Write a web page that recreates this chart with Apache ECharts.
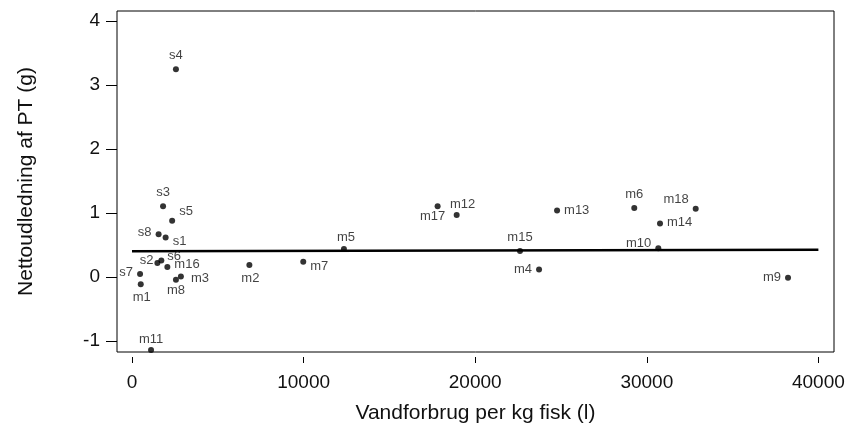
<!DOCTYPE html>
<html>
<head>
<meta charset="utf-8">
<script src="https://cdn.jsdelivr.net/npm/echarts@6/dist/echarts.min.js"></script>
<style>
  html, body { margin: 0; padding: 0; background: #fff; }
  #chart { width: 851px; height: 434px; }
</style>
</head>
<body>
<div id="chart"></div>
<script>
// sample names and values
const names = ["s4", "s3", "s5", "s8", "s1", "s2", "s6", "m16", "s7", "m1", "m8", "m3", "m2", "m11",
  "m7", "m5", "m15", "m4", "m17", "m12", "m13", "m6", "m18", "m14", "m10", "m9"];
const water = [2560, 1810, 2340, 1550, 1960, 1480, 1710, 2060, 470, 510, 2560, 2850, 6840, 1110,
  9980, 12350, 22610, 23720, 17810, 18920, 24770, 29270, 32850, 30770, 30670, 38230];
const netPT = [3.25, 1.11, 0.88, 0.67, 0.62, 0.22, 0.26, 0.16, 0.05, -0.11, -0.04, 0.01, 0.19, -1.14,
  0.24, 0.44, 0.41, 0.12, 1.11, 0.97, 1.04, 1.08, 1.07, 0.84, 0.45, -0.01];

// fitted line end points
const lineX = [0, 40000];
const lineY = [0.405, 0.43];

const xTicks = [0, 10000, 20000, 30000, 40000];
const yTicks = [-1, 0, 1, 2, 3, 4];

// where each label sits next to its dot: [position, dx, dy]
const labelPlace = {
  s4: ["top", 0, 0], s3: ["top", 0, 0], s5: ["right", 0, -9], s8: ["left", 0, -2],
  s1: ["right", 0, 4], s2: ["left", 3, -3], s6: ["right", -1, -4], m16: ["right", 0, -2],
  s7: ["left", 0, -2], m1: ["bottom", 1, 0], m8: ["bottom", 0, -3], m3: ["right", 3, 2],
  m2: ["bottom", 1, 0], m11: ["top", 0, 3], m7: ["right", 0, 5], m5: ["top", 2, 2],
  m15: ["top", 0, 0], m4: ["left", 0, 0], m17: ["bottom", -5, -3], m12: ["top", 6, 3],
  m13: ["right", 0, 0], m6: ["top", 0, 0], m18: ["left", 0, -9], m14: ["right", 0, -1],
  m10: ["left", 0, -5], m9: ["left", 0, 0]
};

const points = names.map((n, i) => {
  const p = labelPlace[n];
  return {
    value: [water[i], netPT[i]],
    name: n,
    label: { position: p[0], offset: [p[1], p[2]] }
  };
});

const font = "'Liberation Sans', Arial, Helvetica, sans-serif";

const chart = echarts.init(document.getElementById("chart"), null, { renderer: "canvas" });
chart.setOption({
  animation: false,
  backgroundColor: "#fff",
  grid: {
    left: 117, right: 17, top: 11, bottom: 82,
    show: true, borderColor: "#000", borderWidth: 1, backgroundColor: "transparent"
  },
  xAxis: {
    type: "value",
    min: -874, max: 40909,
    offset: 5,
    name: "Vandforbrug per kg fisk (l)",
    nameLocation: "middle",
    nameGap: 46,
    nameTextStyle: { color: "#111", fontSize: 21, fontFamily: font },
    axisLine: { show: false, onZero: false },
    axisTick: { show: true, length: 6, lineStyle: { color: "#000" }, customValues: xTicks },
    axisLabel: {
      color: "#111", fontSize: 19, fontFamily: font, margin: 16,
      customValues: xTicks, formatter: v => String(v)
    },
    splitLine: { show: false }
  },
  yAxis: {
    type: "value",
    min: -1.17, max: 4.16,
    name: "Nettoudledning af PT (g)",
    nameLocation: "middle",
    nameGap: 80,
    nameTextStyle: { color: "#111", fontSize: 21, fontFamily: font },
    axisLine: { show: false, onZero: false },
    axisTick: { show: true, length: 11, lineStyle: { color: "#000" }, customValues: yTicks },
    axisLabel: {
      color: "#111", fontSize: 19, fontFamily: font, margin: 17,
      customValues: yTicks, formatter: v => String(v)
    },
    splitLine: { show: false }
  },
  series: [
    {
      type: "line",
      data: lineX.map((x, i) => [x, lineY[i]]),
      symbol: "none",
      lineStyle: { color: "#000", width: 2.5 },
      z: 2
    },
    {
      type: "scatter",
      data: points,
      symbol: "circle",
      symbolSize: 6,
      itemStyle: { color: "#000" },
      label: {
        show: true,
        formatter: "{b}",
        color: "#111",
        fontSize: 13,
        fontFamily: font,
        distance: 4
      },
      z: 3
    }
  ]
});
</script>
</body>
</html>
